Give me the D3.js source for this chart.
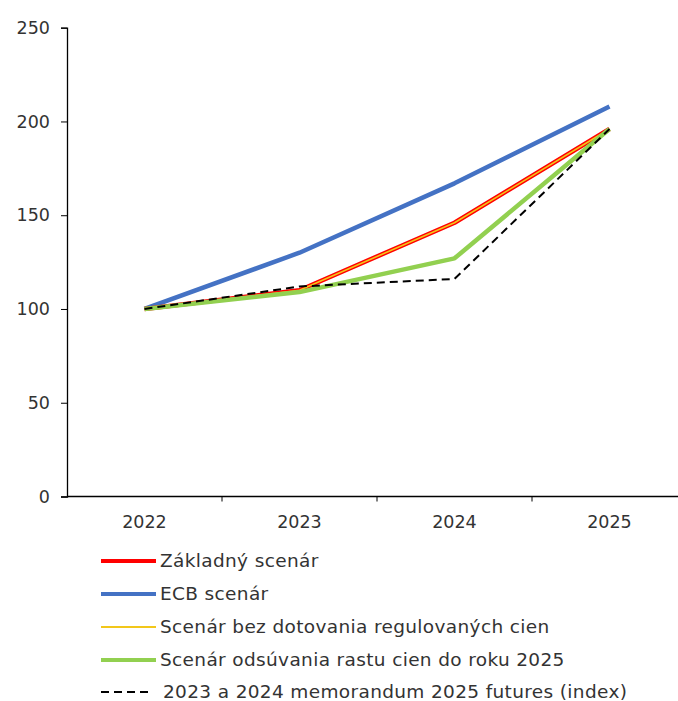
<!DOCTYPE html>
<html>
<head>
<meta charset="utf-8">
<script src="https://cdn.jsdelivr.net/npm/d3@7/dist/d3.min.js"></script>
<style>
  html, body { margin: 0; padding: 0; background: #fff; }
  svg { display: block; }
  text { font-family: "DejaVu Sans", Verdana, sans-serif; fill: #333; }
</style>
</head>
<body>
<div id="chart"></div>
<script>
// Price index scenarios, 2022 = 100
const years = ["2022", "2023", "2024", "2025"];
const yTicks = [0, 50, 100, 150, 200, 250];

const zakladny = [100, 110, 146, 196];
const ecb = [100, 130, 167, 208];
const bezDotovania = [100, 110, 146, 196];
const odsuvanie = [100, 109, 127, 196];
const futures = [100, 112, 116, 196];

const seriesNames = [
  "Základný scenár",
  "ECB scenár",
  "Scenár bez dotovania regulovaných cien",
  "Scenár odsúvania rastu cien do roku 2025",
  "2023 a 2024 memorandum 2025 futures (index)"
];

const W = 678, H = 701;
const svg = d3.select("#chart").append("svg")
  .attr("width", W).attr("height", H);

const x = d3.scaleBand().domain(years).range([67, 687]);
const y = d3.scaleLinear().domain([0, 250]).range([496.5, 27.7]);

// Y axis
const yAxis = svg.append("g").attr("transform", "translate(67,0)")
  .call(d3.axisLeft(y).tickValues(yTicks).tickSize(6).tickPadding(11));
yAxis.select(".domain").attr("stroke", "#000").attr("stroke-width", 1.3);
yAxis.selectAll(".tick line").attr("stroke", "#000");
yAxis.selectAll(".tick text").style("font-size", "17.5px").attr("fill", "#333");

// X axis: ticks at category boundaries
const xg = svg.append("g").attr("transform", `translate(0,${y(0)})`);
xg.append("line").attr("x1", 67).attr("x2", W).attr("y1", 0).attr("y2", 0)
  .attr("stroke", "#000").attr("stroke-width", 1.3);
xg.selectAll("line.tk").data(years.slice(1)).join("line").attr("class", "tk")
  .attr("x1", d => x(d)).attr("x2", d => x(d)).attr("y1", 0).attr("y2", 5)
  .attr("stroke", "#000");
xg.selectAll("text").data(years).join("text")
  .attr("x", d => x(d) + x.bandwidth() / 2).attr("y", 31)
  .attr("text-anchor", "middle").style("font-size", "17.5px")
  .text(d => d);

const cx = (d, i) => x(years[i]) + x.bandwidth() / 2;
const line = d3.line().x(cx).y(d => y(d));

const styles = [
  { data: zakladny, color: "#ff0000", width: 4.5, dash: null },
  { data: ecb, color: "#4472c4", width: 4.5, dash: null },
  { data: bezDotovania, color: "#f2c71a", width: 1.6, dash: null },
  { data: odsuvanie, color: "#92d050", width: 4.5, dash: null },
  { data: futures, color: "#000", width: 2, dash: "8,5" }
];

// Draw order: blue, red, yellow, green, dashed
[1, 0, 2, 3, 4].forEach(i => {
  const s = styles[i];
  svg.append("path").datum(s.data)
    .attr("d", line)
    .attr("fill", "none")
    .attr("stroke", s.color)
    .attr("stroke-width", s.width)
    .attr("stroke-linejoin", "round")
    .attr("stroke-dasharray", s.dash);
});

// Legend
const legendY = [561, 594, 627, 660, 692];
const lg = svg.append("g");
styles.forEach((s, i) => {
  lg.append("line")
    .attr("x1", 101).attr("x2", i === 4 ? 150 : 156)
    .attr("y1", legendY[i]).attr("y2", legendY[i])
    .attr("stroke", s.color)
    .attr("stroke-width", i === 2 ? 2 : (i === 4 ? 2 : 4))
    .attr("stroke-dasharray", s.dash);
  lg.append("text")
    .attr("x", i === 4 ? 163 : 160).attr("y", legendY[i])
    .attr("dy", "0.35em")
    .style("font-size", "18.5px")
    .style("letter-spacing", "0.35px")
    .text(seriesNames[i]);
});
</script>
</body>
</html>
